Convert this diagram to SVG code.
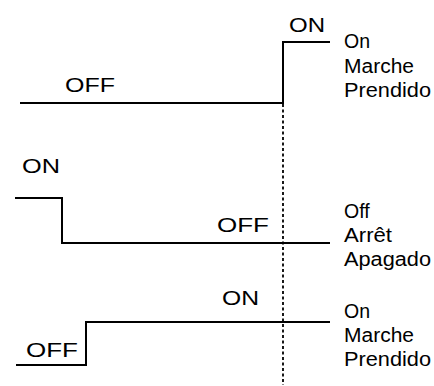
<svg xmlns="http://www.w3.org/2000/svg" width="434" height="386" viewBox="0 0 434 386">
<style>
.w{fill:none;stroke:#000;stroke-width:2;stroke-linejoin:miter}
.d{fill:none;stroke:#000;stroke-width:1.8;stroke-dasharray:3,2.5}
.s{font-family:"Liberation Sans",Arial,sans-serif;font-size:21px;fill:#000}
.r{font-family:"Liberation Sans",Arial,sans-serif;font-size:19.5px;fill:#000}
</style>
<rect width="434" height="386" fill="#fff"/>
<g id="connectors">
<line class="d" x1="283" y1="104" x2="283" y2="385"/>
</g>
<g id="row1">
<polyline class="w" points="20,103 283,103 283,42 330,42"/>
<text class="s" x="289" y="32" textLength="36" lengthAdjust="spacingAndGlyphs">ON</text>
<text class="s" x="65" y="92" textLength="50" lengthAdjust="spacingAndGlyphs">OFF</text>
<text class="r" x="344" y="48">On</text>
<text class="r" x="344" y="73" textLength="70" lengthAdjust="spacingAndGlyphs">Marche</text>
<text class="r" x="344" y="97" textLength="87" lengthAdjust="spacingAndGlyphs">Prendido</text>
</g>
<g id="row2">
<polyline class="w" points="15,198 62,198 62,243 330,243"/>
<text class="s" x="22" y="173" textLength="38" lengthAdjust="spacingAndGlyphs">ON</text>
<text class="s" x="217" y="232" textLength="52" lengthAdjust="spacingAndGlyphs">OFF</text>
<text class="r" x="344" y="218">Off</text>
<text class="r" x="344" y="242" textLength="48" lengthAdjust="spacingAndGlyphs">Arrêt</text>
<text class="r" x="344" y="266" textLength="87" lengthAdjust="spacingAndGlyphs">Apagado</text>
</g>
<g id="row3">
<polyline class="w" points="16,365 86,365 86,322 330,322"/>
<text class="s" x="222" y="305" textLength="37" lengthAdjust="spacingAndGlyphs">ON</text>
<text class="s" x="26" y="357" textLength="52" lengthAdjust="spacingAndGlyphs">OFF</text>
<text class="r" x="344" y="318">On</text>
<text class="r" x="344" y="342" textLength="70" lengthAdjust="spacingAndGlyphs">Marche</text>
<text class="r" x="344" y="366" textLength="87" lengthAdjust="spacingAndGlyphs">Prendido</text>
</g>
</svg>
